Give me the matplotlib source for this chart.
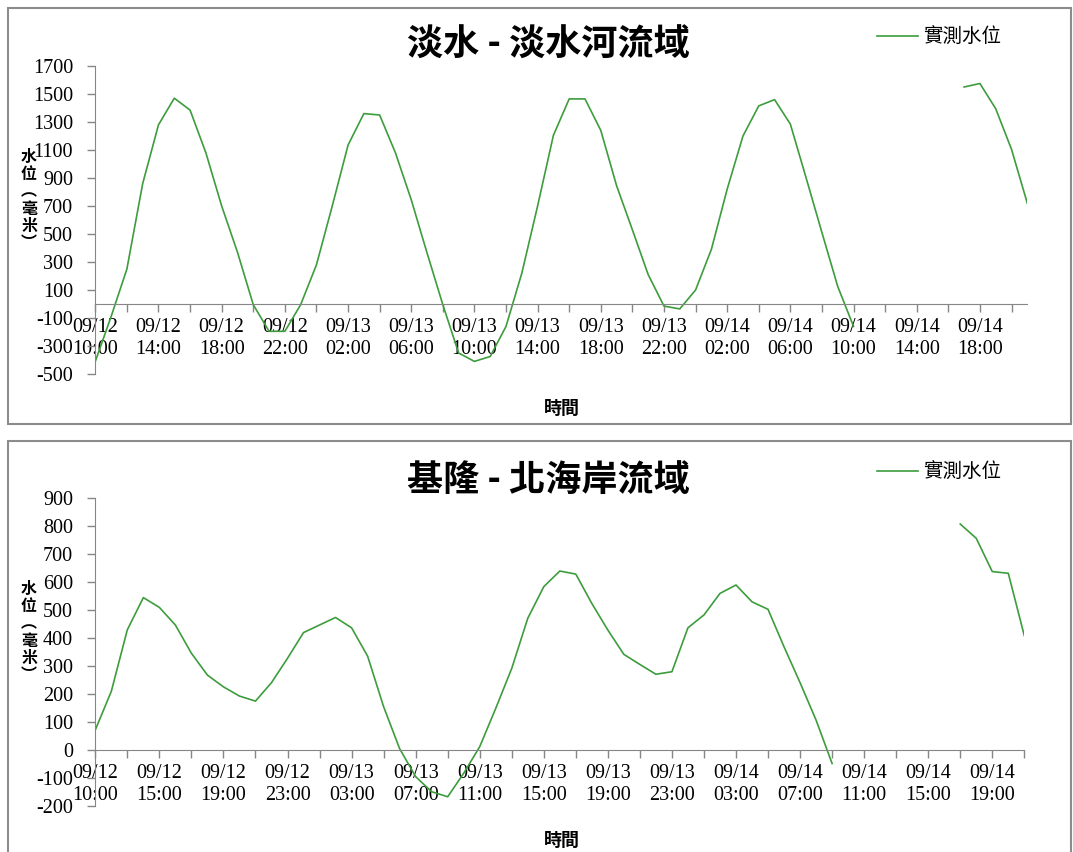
import numpy as np
import matplotlib
matplotlib.use("Agg")
import matplotlib.pyplot as plt
from matplotlib.patches import Rectangle

plt.rcParams["font.family"] = ["Liberation Serif", "Noto Sans CJK TC", "DejaVu Sans"]
plt.rcParams["axes.unicode_minus"] = False
CJK = ["Noto Sans CJK TC", "DejaVu Sans"]

# 淡水 - 淡水河流域, hourly from 09/12 10:00 (None = no data)
tamsui_level = [
    -410, -90, 250, 860, 1280, 1470, 1385, 1080, 700, 370,
    -5, -195, -195, -5, 280, 700, 1135, 1360, 1350, 1080,
    745, 365, -5, -350, -410, -375, -160, 220, 700, 1205,
    1465, 1465, 1240, 845, 530, 210, -15, -35, 100, 390,
    820, 1200, 1415, 1460, 1285, 900, 510, 125, -160,
    None, None, None, None, None, None,
    1550, 1575, 1395, 1105, 720,
]
tamsui_labels = [
    "09/12\n10:00", "09/12\n14:00", "09/12\n18:00", "09/12\n22:00",
    "09/13\n02:00", "09/13\n06:00", "09/13\n10:00", "09/13\n14:00",
    "09/13\n18:00", "09/13\n22:00", "09/14\n02:00", "09/14\n06:00",
    "09/14\n10:00", "09/14\n14:00", "09/14\n18:00",
]

# 基隆 - 北海岸流域
keelung_level = [
    72, 210, 430, 545, 510, 447, 346, 268, 226, 193,
    175, 241, 328, 420, 447, 474, 437, 336, 155, 5,
    -95, -149, -167, -83, 12, 149, 292, 471, 584, 640,
    629, 524, 429, 342, 306, 271, 280, 437, 483, 560,
    590, 530, 503, 369, 241, 107, -48,
    None, None, None, None, None, None, None,
    808, 757, 638, 632, 409,
]
keelung_labels = [
    "09/12\n10:00", "09/12\n15:00", "09/12\n19:00", "09/12\n23:00",
    "09/13\n03:00", "09/13\n07:00", "09/13\n11:00", "09/13\n15:00",
    "09/13\n19:00", "09/13\n23:00", "09/14\n03:00", "09/14\n07:00",
    "09/14\n11:00", "09/14\n15:00", "09/14\n19:00",
]

W, H = 1073, 852
GREEN = "#3d9c3d"
GRAY = "#868686"

fig = plt.figure(figsize=(W / 100, H / 100), dpi=100)


def panel(rect, values, labels, ymin, ymax, ystep, title, title_y, frame_top, frame_bottom, ylab_y, xlab_y):
    ax = fig.add_axes(rect)
    y = np.array(values, dtype=float)
    x = np.arange(len(y))
    ax.plot(x, y, color=GREEN, lw=1.2, label="實測水位")
    ax.set_xlim(0, len(y) - 1)
    ax.set_ylim(ymin, ymax)
    ax.set_yticks(np.arange(ymin, ymax + 1, ystep))

    # ticks every 2 hours, labels every 4
    ticks = np.arange(0, len(y), 2)
    ticklabels = []
    for t in ticks:
        ticklabels.append(labels[t // 4] if t % 4 == 0 else "")
    ax.set_xticks(ticks)
    ax.set_xticklabels(ticklabels)

    for s in ("top", "right"):
        ax.spines[s].set_visible(False)
    ax.spines["bottom"].set_position(("data", 0))
    ax.spines["left"].set_color(GRAY)
    ax.spines["bottom"].set_color(GRAY)
    ax.tick_params(axis="both", direction="out", length=6, width=1, color=GRAY, labelsize=14.5)
    ax.tick_params(axis="x", pad=4)
    ax.tick_params(axis="y", pad=10)

    fig.text(548 / W, 1 - title_y / H, title, ha="center", va="center",
             fontsize=26, fontweight="bold", family=CJK)
    fig.text(29 / W, 1 - ylab_y / H, "水\n位\n︵\n毫\n米\n︶", ha="center", va="center",
             fontsize=11.5, fontweight="bold", family=CJK, linespacing=1.1)
    fig.text(562 / W, 1 - xlab_y / H, "時間", ha="center", va="center",
             fontsize=13, fontweight="bold", family=CJK)

    ax.legend(loc="center left", bbox_to_anchor=(877 / W, 1 - (title_y - 8) / H),
              bbox_transform=fig.transFigure, frameon=False, borderpad=0,
              borderaxespad=0, handlelength=2.1, handletextpad=0.25,
              prop={"family": CJK, "size": 14})

    fig.add_artist(Rectangle((8 / W, 1 - frame_bottom / H), (1071 - 8) / W,
                             (frame_bottom - frame_top) / H, transform=fig.transFigure,
                             fill=False, edgecolor="#8c8c8c", lw=1.5))
    return ax


panel([95.3 / W, 1 - 374 / H, 932 / W, 308 / H], tamsui_level, tamsui_labels,
      -500, 1700, 200, "淡水 - 淡水河流域", 45, 8, 424, 200, 408)
panel([95.3 / W, 1 - 806 / H, 929 / W, 307.7 / H], keelung_level, keelung_labels,
      -200, 900, 100, "基隆 - 北海岸流域", 480, 441, 860, 632, 840)

fig.savefig("out.png", dpi=100)
